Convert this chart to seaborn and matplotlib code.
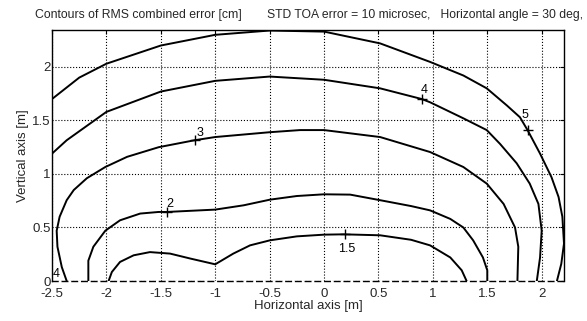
import numpy as np
import pandas as pd
import matplotlib
matplotlib.use("Agg")
import matplotlib.pyplot as plt
import seaborn as sns

# Contour lines (x, y)
c15_x = [-1.98, -1.95, -1.875, -1.75, -1.6, -1.415, -1.23, -1.0, -0.834, -0.68, -0.497, -0.25, 0.0, 0.18, 0.515, 0.80, 0.974, 1.16, 1.265, 1.31]
c15_y = [0.0, 0.084, 0.178, 0.24, 0.27, 0.256, 0.21, 0.156, 0.256, 0.333, 0.38, 0.417, 0.433, 0.436, 0.427, 0.385, 0.333, 0.22, 0.10, 0.0]

c2_x = [-2.166, -2.166, -2.12, -2.01, -1.875, -1.69, -1.52, -1.446, -1.0, -0.74, -0.497, -0.25, 0.0, 0.24, 0.515, 0.80, 0.974, 1.16, 1.28, 1.37, 1.46, 1.50, 1.50]
c2_y = [0.0, 0.19, 0.32, 0.47, 0.567, 0.63, 0.645, 0.645, 0.667, 0.707, 0.76, 0.794, 0.81, 0.807, 0.755, 0.70, 0.66, 0.58, 0.50, 0.38, 0.22, 0.10, 0.0]

c3_x = [-2.365, -2.41, -2.45, -2.457, -2.43, -2.365, -2.30, -2.18, -2.01, -1.81, -1.52, -1.19, -1.0, -0.5, -0.22, 0.0, 0.515, 0.974, 1.28, 1.495, 1.65, 1.755, 1.785, 1.777]
c3_y = [0.0, 0.13, 0.32, 0.47, 0.60, 0.755, 0.85, 0.96, 1.065, 1.16, 1.25, 1.315, 1.345, 1.39, 1.41, 1.41, 1.345, 1.205, 1.065, 0.91, 0.72, 0.50, 0.32, 0.0]

c4_x = [-2.5, -2.365, -2.0, -1.5, -1.0, -0.5, 0.0, 0.515, 0.898, 0.974, 1.28, 1.495, 1.618, 1.77, 1.89, 1.97, 2.0, 1.985, 1.955]
c4_y = [1.19, 1.315, 1.58, 1.77, 1.87, 1.91, 1.88, 1.80, 1.70, 1.67, 1.52, 1.41, 1.28, 1.10, 0.91, 0.72, 0.47, 0.22, 0.0]

c5_x = [-2.5, -2.25, -2.0, -1.5, -1.0, -0.5, 0.0, 0.515, 0.974, 1.28, 1.495, 1.68, 1.80, 1.87, 1.985, 2.09, 2.155, 2.19, 2.205, 2.18, 2.14]
c5_y = [1.70, 1.90, 2.03, 2.20, 2.30, 2.34, 2.33, 2.22, 2.047, 1.92, 1.80, 1.64, 1.53, 1.41, 1.19, 0.97, 0.785, 0.60, 0.35, 0.16, 0.0]

# Contour label markers and texts
mark_x = [0.19, -1.446, -1.19, 0.898, 1.87]
mark_y = [0.436, 0.645, 1.315, 1.70, 1.41]
label_text = ["1.5", "2", "3", "4", "5"]
label_x = [0.21, -1.42, -1.14, 0.92, 1.85]
label_y = [0.30, 0.72, 1.38, 1.78, 1.55]
corner_label = "4"
corner_x, corner_y = -2.46, 0.07

x_ticks = [-2.5, -2, -1.5, -1, -0.5, 0, 0.5, 1, 1.5, 2]
x_tick_labels = ["-2.5", "-2", "-1.5", "-1", "-0.5", "0", "0.5", "1", "1.5", "2"]
y_ticks = [0, 0.5, 1, 1.5, 2]
y_tick_labels = ["0", "0.5", "1", "1.5", "2"]

sns.set_style("white")
plt.rcParams['font.family'] = ['Liberation Sans', 'DejaVu Sans']

fig = plt.figure(figsize=(5.87, 3.21), dpi=100)
ax = fig.add_axes([52/587, 1 - 281/321, (564 - 52)/587, (281 - 30)/321])

contours = [(c15_x, c15_y), (c2_x, c2_y), (c3_x, c3_y), (c4_x, c4_y), (c5_x, c5_y)]
for cx, cy in contours:
    df = pd.DataFrame({"x": cx, "y": cy})
    sns.lineplot(data=df, x="x", y="y", sort=False, estimator=None, color="black", linewidth=1.4, ax=ax)

sns.scatterplot(x=mark_x, y=mark_y, marker="+", color="black", s=50, linewidth=1.0, ax=ax, zorder=5)
for t, lx, ly in zip(label_text, label_x, label_y):
    ax.text(lx, ly, t, fontsize=9, ha="center", va="center", color="black")
ax.text(corner_x, corner_y, corner_label, fontsize=9, ha="center", va="center", color="black")

ax.set_xlim(-2.5, 2.205)
ax.set_ylim(0, 2.345)
ax.set_xticks(x_ticks)
ax.set_xticklabels(x_tick_labels, fontsize=9.5)
ax.set_yticks(y_ticks)
ax.set_yticklabels(y_tick_labels, fontsize=9.5)
ax.grid(True, linestyle=":", color="black", linewidth=0.8)
ax.tick_params(direction="in", top=True, right=True, length=3, color="black")
ax.tick_params(axis="x", pad=5)
ax.tick_params(axis="y", pad=1)
for s in ["left", "top", "right"]:
    ax.spines[s].set_color("black")
    ax.spines[s].set_linewidth(1.0)
ax.spines["bottom"].set_color("black")
ax.spines["bottom"].set_linestyle((0, (4, 3)))
ax.spines["bottom"].set_linewidth(1.0)

ax.set_xlabel("Horizontal axis [m]", fontsize=9.5, labelpad=0)
ax.set_ylabel("Vertical axis [m]", fontsize=9.5, labelpad=2)

fig.text(35/587, 1 - 15/321, "Contours of RMS combined error [cm]", fontsize=8.8, va="center", ha="left")
fig.text(267/587, 1 - 15/321, "STD TOA error = 10 microsec,   Horizontal angle = 30 deg,", fontsize=8.7, va="center", ha="left")

fig.savefig("out.png", dpi=100)
